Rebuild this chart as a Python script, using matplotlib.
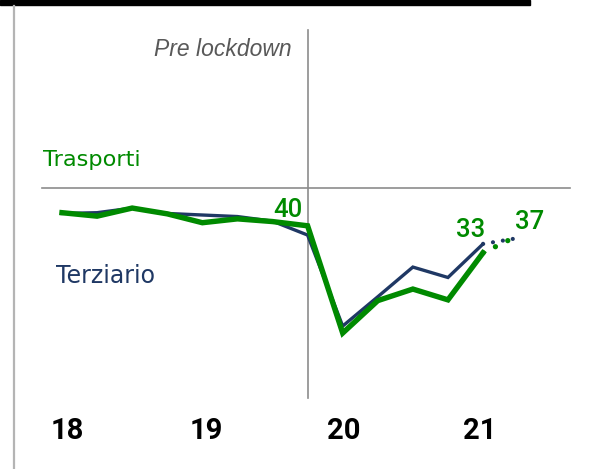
import matplotlib
matplotlib.use("Agg")
from matplotlib import pyplot as plt
from matplotlib import transforms
from matplotlib.lines import Line2D
from matplotlib.patches import Rectangle

W, H = 589, 469

# quarterly index values, 2018 Q1 .. 2021 Q1
quarters = ["18Q1", "18Q2", "18Q3", "18Q4", "19Q1", "19Q2", "19Q3", "19Q4",
            "20Q1", "20Q2", "20Q3", "20Q4", "21Q1"]
trasporti = [43.6, 42.7, 44.8, 43.3, 41.0, 42.0, 41.3, 40.2, 12.4, 20.8, 23.8, 21.0, 33.2]
terziario = [43.4, 43.6, 44.8, 43.4, 43.0, 42.6, 41.4, 37.8, 14.2, 21.8, 29.5, 26.8, 35.5]

# estimate for the next quarter (dotted)
proj_x = 12.85
proj_trasporti = 37.0
proj_terziario = 36.8

years = ["18", "19", "20", "21"]
year_pos = [0.15, 4.1, 8.02, 11.9]

threshold = 50
lockdown_idx = 7

GREEN = "#008a00"
NAVY = "#1f3864"


def px(x, y):
    # pixel position -> figure fraction
    return x / W, 1 - y / H


fig = plt.figure(figsize=(W / 100, H / 100), dpi=100)
ax = fig.add_axes([0, 0, 1, 1])
ax.set_xlim(-1.767, 15.02)
ax.set_ylim(-22.85, 98.74)
ax.axis("off")

xs = list(range(len(quarters)))

# reference lines
ax.axhline(threshold, xmin=42 / W, xmax=570 / W, color="#8c8c8c", lw=1.2)
ax.axvline(lockdown_idx, ymin=1 - 398 / H, ymax=1 - 30 / H, color="#8c8c8c", lw=1.2)

ax.plot(xs, terziario, color=NAVY, lw=2.4, solid_joinstyle="miter", zorder=3)
ax.plot(xs, trasporti, color=GREEN, lw=3.9, solid_joinstyle="miter", zorder=4)

ax.plot([xs[-1], proj_x], [terziario[-1], proj_terziario], color=NAVY, lw=3,
        linestyle=(0, (0.01, 2.4)), dash_capstyle="round", zorder=3)
ax.plot([xs[-1], proj_x], [trasporti[-1], proj_trasporti], color=GREEN, lw=3.8,
        linestyle=(0, (0.01, 2.6)), dash_capstyle="round", zorder=4)

num_font = dict(family="Roboto", weight="medium", size=18.5, color=GREEN)
ax.annotate("40", xy=(lockdown_idx, trasporti[lockdown_idx]), xytext=(-5, 9),
            textcoords="offset pixels", ha="right", va="baseline", **num_font)
ax.annotate("33", xy=(xs[-1], trasporti[-1]), xytext=(-12, 16),
            textcoords="offset pixels", ha="center", va="baseline", **num_font)
ax.annotate("37", xy=(proj_x, proj_trasporti), xytext=(17, 9),
            textcoords="offset pixels", ha="center", va="baseline", **num_font)

# year labels: x in data, baseline fixed in figure pixels
year_tr = transforms.blended_transform_factory(ax.transData, fig.transFigure)
for pos, lab in zip(year_pos, years):
    ax.text(pos, 1 - 439 / H, lab, transform=year_tr, ha="center", va="baseline",
            family="Roboto", weight="bold", size=21, color="black")

fig.text(*px(43, 166.5), "Trasporti", ha="left", va="baseline",
         family="DejaVu Sans", size=16.2, color=GREEN)
fig.text(*px(56, 283), "Terziario", ha="left", va="baseline",
         family="DejaVu Sans", size=17, color=NAVY)
fig.text(*px(292, 56), "Pre lockdown", ha="right", va="baseline",
         family="Liberation Sans", style="italic", size=16.5, color="#595959")

# frame decorations: black bar on top, grey rule on the left
fig.patches.append(Rectangle(px(0, 5), 530 / W, 5 / H, transform=fig.transFigure,
                             color="black", figure=fig))
fig.lines.append(Line2D([14 / W, 14 / W], [0, 1 - 6 / H], transform=fig.transFigure,
                        color="#b4b4b4", lw=1.6, figure=fig))

fig.savefig("out.png", dpi=100)
